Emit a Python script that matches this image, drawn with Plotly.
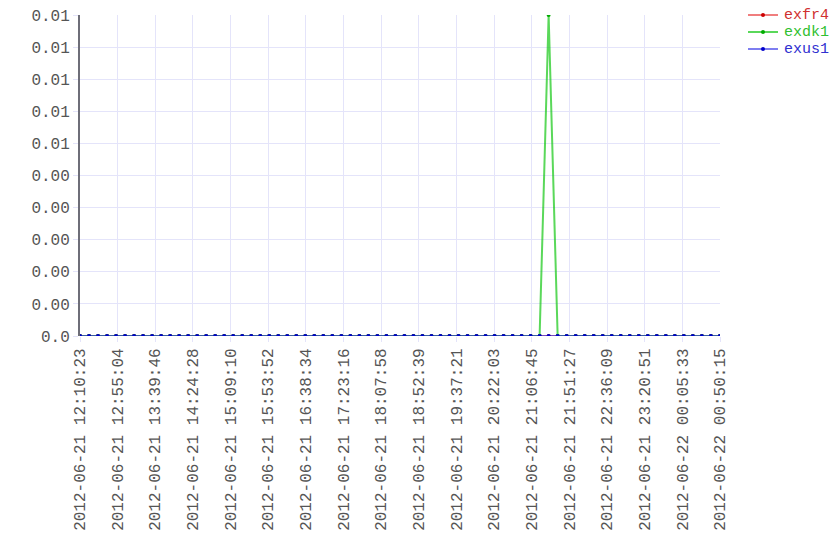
import plotly.graph_objects as go

# x timestamps of the samples
times = [
    "2012-06-21 12:10:23", "2012-06-21 12:21:05", "2012-06-21 12:31:47", "2012-06-21 12:42:29",
    "2012-06-21 12:53:11", "2012-06-21 13:03:53", "2012-06-21 13:14:35", "2012-06-21 13:25:17",
    "2012-06-21 13:35:59", "2012-06-21 13:46:41", "2012-06-21 13:57:23", "2012-06-21 14:08:05",
    "2012-06-21 14:18:47", "2012-06-21 14:29:29", "2012-06-21 14:40:11", "2012-06-21 14:50:53",
    "2012-06-21 15:01:35", "2012-06-21 15:12:17", "2012-06-21 15:22:59", "2012-06-21 15:33:41",
    "2012-06-21 15:44:23", "2012-06-21 15:55:05", "2012-06-21 16:05:47", "2012-06-21 16:16:29",
    "2012-06-21 16:27:11", "2012-06-21 16:37:53", "2012-06-21 16:48:35", "2012-06-21 16:59:17",
    "2012-06-21 17:09:59", "2012-06-21 17:20:41", "2012-06-21 17:31:23", "2012-06-21 17:42:05",
    "2012-06-21 17:52:47", "2012-06-21 18:03:29", "2012-06-21 18:14:11", "2012-06-21 18:24:53",
    "2012-06-21 18:35:35", "2012-06-21 18:46:17", "2012-06-21 18:56:59", "2012-06-21 19:07:41",
    "2012-06-21 19:18:23", "2012-06-21 19:29:05", "2012-06-21 19:39:47", "2012-06-21 19:50:29",
    "2012-06-21 20:01:11", "2012-06-21 20:11:53", "2012-06-21 20:22:35", "2012-06-21 20:33:17",
    "2012-06-21 20:43:59", "2012-06-21 20:54:41", "2012-06-21 21:05:23", "2012-06-21 21:16:05",
    "2012-06-21 21:26:47", "2012-06-21 21:37:29", "2012-06-21 21:48:11", "2012-06-21 21:58:53",
    "2012-06-21 22:09:35", "2012-06-21 22:20:17", "2012-06-21 22:30:59", "2012-06-21 22:41:41",
    "2012-06-21 22:52:23", "2012-06-21 23:03:05", "2012-06-21 23:13:47", "2012-06-21 23:24:29",
    "2012-06-21 23:35:11", "2012-06-21 23:45:53", "2012-06-21 23:56:35", "2012-06-22 00:07:17",
    "2012-06-22 00:17:59", "2012-06-22 00:28:41", "2012-06-22 00:39:23", "2012-06-22 00:50:05",
]

exfr4 = [0.0] * 72
exdk1 = [0.0] * 52 + [0.01] + [0.0] * 19
exus1 = [0.0] * 72

x_ticks = [
    "2012-06-21 12:10:23", "2012-06-21 12:55:04", "2012-06-21 13:39:46", "2012-06-21 14:24:28",
    "2012-06-21 15:09:10", "2012-06-21 15:53:52", "2012-06-21 16:38:34", "2012-06-21 17:23:16",
    "2012-06-21 18:07:58", "2012-06-21 18:52:39", "2012-06-21 19:37:21", "2012-06-21 20:22:03",
    "2012-06-21 21:06:45", "2012-06-21 21:51:27", "2012-06-21 22:36:09", "2012-06-21 23:20:51",
    "2012-06-22 00:05:33", "2012-06-22 00:50:15",
]
y_ticks = [0.0, 0.001, 0.002, 0.003, 0.004, 0.005, 0.006, 0.007, 0.008, 0.009, 0.01]
y_labels = ["0.0", "0.00", "0.00", "0.00", "0.00", "0.00", "0.01", "0.01", "0.01", "0.01", "0.01"]

FONT = "Liberation Mono"
FS = 16
OFF = 8  # default page body margin
W, H = 840 - 2 * OFF, 560 - 2 * OFF
# plot area in page pixels: x 80..720, y 15..336
ML = 80 - OFF
MT = 15 - OFF
MR = (OFF + W) - 720
MB = (OFF + H) - 336

series = [
    ("exfr4", exfr4, "rgba(230,40,40,0.6)", "#cc0000", "#d03030"),
    ("exdk1", exdk1, "rgba(20,200,20,0.7)", "#00aa00", "#30c030"),
    ("exus1", exus1, "rgba(40,40,230,0.6)", "#0000cc", "#3030d0"),
]

fig = go.Figure()
for name, vals, lc, mc, tc in series:
    fig.add_trace(go.Scatter(
        x=times, y=vals, name=name, mode="lines+markers",
        line=dict(color=lc, width=2),
        marker=dict(color=mc, size=4),
        showlegend=False,
    ))

# manual legend (paper coordinates), positions given in page pixels
pw = W - ML - MR
ph = H - MT - MB
def px_x(p):
    return (p - OFF - ML) / pw
def px_y(p):
    return 1 - (p - OFF - MT) / ph

shapes = []
annotations = []
for i, (name, _, lc, mc, tc) in enumerate(series):
    yy = px_y(15 + 17 * i)
    shapes.append(dict(type="line", xref="paper", yref="paper",
                       x0=px_x(748), x1=px_x(778), y0=yy, y1=yy,
                       line=dict(color=lc, width=2)))
    shapes.append(dict(type="circle", xref="paper", yref="paper",
                       x0=px_x(761), x1=px_x(765), y0=yy - 2 / ph, y1=yy + 2 / ph,
                       fillcolor=mc, line=dict(width=0)))
    annotations.append(dict(text=name, xref="paper", yref="paper",
                            x=px_x(782), y=yy, xanchor="left", yanchor="middle",
                            showarrow=False,
                            font=dict(family=FONT, size=15, color=tc)))

grid = "#e4e4fa"
fig.update_layout(
    width=W, height=H,
    margin=dict(l=ML, r=MR, t=MT, b=MB, autoexpand=False),
    plot_bgcolor="white", paper_bgcolor="white",
    font=dict(family=FONT, size=FS, color="#555555"),
    showlegend=False,
    shapes=shapes, annotations=annotations,
    xaxis=dict(
        type="date", range=[x_ticks[0], x_ticks[-1]],
        tickvals=x_ticks, ticktext=x_ticks,
        tickangle=-90, showgrid=True, gridcolor=grid, gridwidth=1,
        ticks="outside", ticklen=5, tickcolor=grid,
        showline=False, zeroline=False, automargin=False,
        ticklabeloverflow="allow",
        tickfont=dict(family=FONT, size=FS, color="#555555"),
    ),
    yaxis=dict(
        range=[0, 0.01], tickvals=y_ticks, ticktext=y_labels,
        showgrid=True, gridcolor=grid, gridwidth=1,
        ticks="outside", ticklen=5, tickcolor=grid,
        showline=True, linecolor="#6e6e78", linewidth=2, zeroline=False,
        automargin=False, ticklabeloverflow="allow",
        tickfont=dict(family=FONT, size=FS, color="#555555"),
    ),
)
fig.write_html("out.html")
